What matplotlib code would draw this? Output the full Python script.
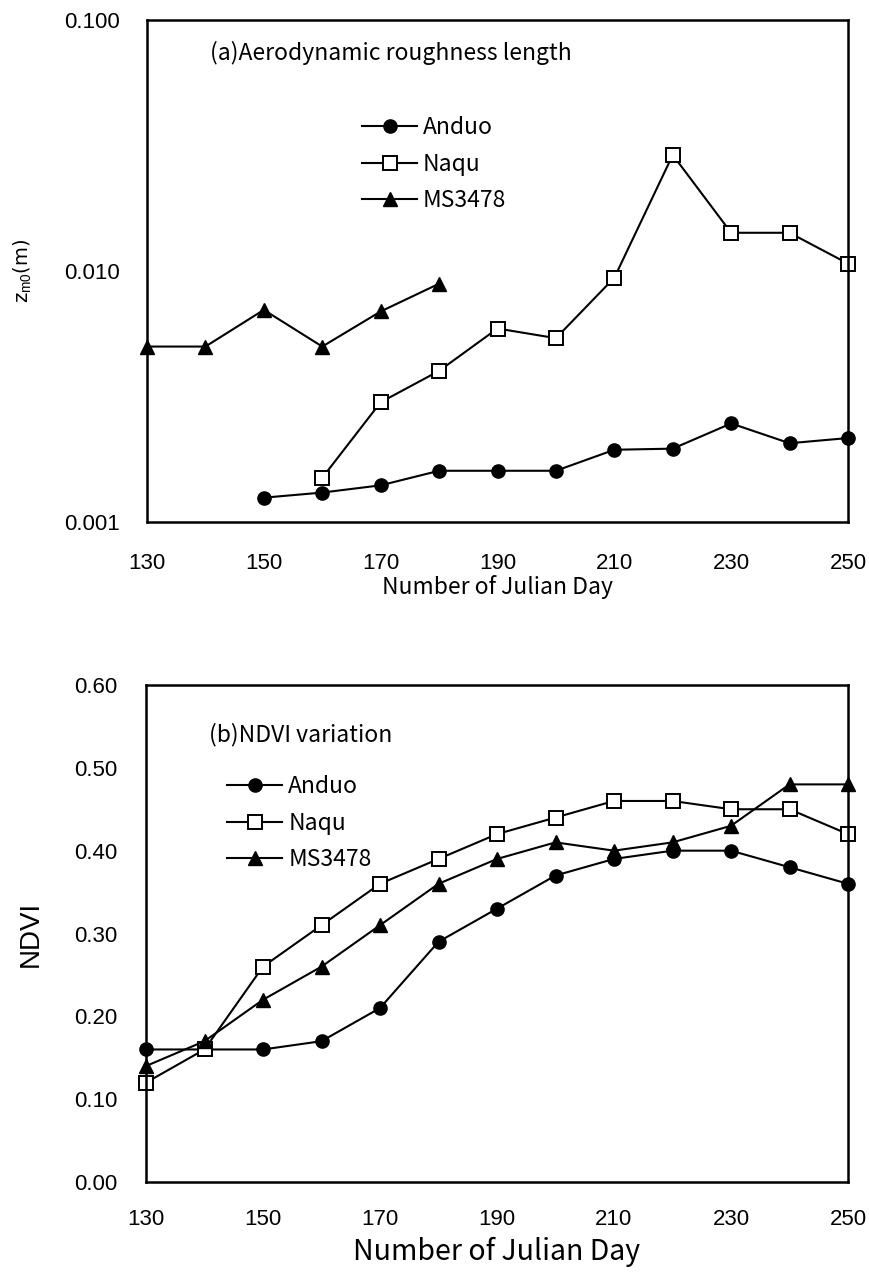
import numpy as np
import matplotlib
matplotlib.use("Agg")
import matplotlib.pyplot as plt
from matplotlib.ticker import FixedLocator, FixedFormatter, NullLocator

# dias julianos
dias = [130, 140, 150, 160, 170, 180, 190, 200, 210, 220, 230, 240, 250]

# (a) comprimento de rugosidade z0m (m)
z0_anduo_dias = [150, 160, 170, 180, 190, 200, 210, 220, 230, 240, 250]
z0_anduo = [0.00125, 0.00131, 0.0014, 0.0016, 0.0016, 0.0016, 0.00194, 0.00196, 0.00247, 0.00206, 0.00216]
z0_naqu_dias = [160, 170, 180, 190, 200, 210, 220, 230, 240, 250]
z0_naqu = [0.0015, 0.0030, 0.0040, 0.0059, 0.0054, 0.0094, 0.029, 0.0142, 0.0142, 0.0107]
z0_ms_dias = [130, 140, 150, 160, 170, 180]
z0_ms = [0.005, 0.005, 0.0070, 0.005, 0.0069, 0.0089]

# (b) NDVI
ndvi_anduo = [0.16, 0.16, 0.16, 0.17, 0.21, 0.29, 0.33, 0.37, 0.39, 0.40, 0.40, 0.38, 0.36]
ndvi_naqu = [0.12, 0.16, 0.26, 0.31, 0.36, 0.39, 0.42, 0.44, 0.46, 0.46, 0.45, 0.45, 0.42]
ndvi_ms = [0.14, 0.17, 0.22, 0.26, 0.31, 0.36, 0.39, 0.41, 0.40, 0.41, 0.43, 0.48, 0.48]

x_ticks = [130, 150, 170, 190, 210, 230, 250]

fonte_texto = ["Noto Sans CJK JP", "DejaVu Sans"]
fonte_num = "Liberation Sans"
plt.rcParams["mathtext.fontset"] = "custom"
plt.rcParams["mathtext.rm"] = "Liberation Sans"
plt.rcParams["mathtext.it"] = "Liberation Sans"

fig = plt.figure(figsize=(8.69, 12.79), dpi=100)
W, H = 869, 1279
ax1 = fig.add_axes([147 / W, 1 - 522 / H, (848 - 147) / W, (522 - 20) / H])
ax2 = fig.add_axes([146 / W, 1 - 1182 / H, (848 - 146) / W, (1182 - 685) / H])

estilo = dict(color="black", lw=1.5, clip_on=False)
m_circ = dict(marker="o", ms=9.5, mfc="black", mec="black")
m_quad = dict(marker="s", ms=9.5, mfc="white", mec="black", mew=1.4)
m_tri = dict(marker="^", ms=9.5, mfc="black", mec="black")

leg_kw = dict(loc="upper left", frameon=False, prop={"family": fonte_texto, "size": 16.5},
              handlelength=2.4, handletextpad=0.25, labelspacing=0.6,
              borderaxespad=0, borderpad=0)

# grafico (a)
ax1.plot(z0_anduo_dias, z0_anduo, label="Anduo", **estilo, **m_circ)
ax1.plot(z0_naqu_dias, z0_naqu, label="Naqu", **estilo, **m_quad)
ax1.plot(z0_ms_dias, z0_ms, label="MS3478", **estilo, **m_tri)
ax1.set_yscale("log")
ax1.set_ylim(0.001, 0.1)
ax1.yaxis.set_major_locator(FixedLocator([0.001, 0.01, 0.1]))
ax1.yaxis.set_major_formatter(FixedFormatter(["0.001", "0.010", "0.100"]))
ax1.yaxis.set_minor_locator(NullLocator())
ax1.set_ylabel(r"z$_{\mathrm{m0}}$(m)", fontsize=14)
ax1.yaxis.set_label_coords(-0.162, 0.5)
ax1.set_xlabel("Number of Julian Day", fontsize=16.5, family=fonte_texto)
ax1.xaxis.set_label_coords(0.5, -0.105)
ax1.text(0.09, 0.934, "(a)Aerodynamic roughness length", transform=ax1.transAxes,
         fontsize=16.5, family=fonte_texto, va="center")
ax1.legend(bbox_to_anchor=(0.307, 0.809), **leg_kw)
ax1.tick_params(axis="x", pad=22)
ax1.tick_params(axis="y", pad=19.5)

# grafico (b)
ax2.plot(dias, ndvi_anduo, label="Anduo", **estilo, **m_circ)
ax2.plot(dias, ndvi_naqu, label="Naqu", **estilo, **m_quad)
ax2.plot(dias, ndvi_ms, label="MS3478", **estilo, **m_tri)
ax2.set_ylim(0, 0.6)
ax2.set_yticks(np.arange(0, 0.61, 0.1))
ax2.set_yticklabels([f"{v:.2f}" for v in np.arange(0, 0.61, 0.1)])
ax2.set_ylabel("NDVI", fontsize=20, family=fonte_num)
ax2.yaxis.set_label_coords(-0.146, 0.5)
ax2.set_xlabel("Number of Julian Day", fontsize=20.5, family=fonte_texto)
ax2.xaxis.set_label_coords(0.5, -0.111)
ax2.text(0.09, 0.901, "(b)NDVI variation", transform=ax2.transAxes,
         fontsize=16.5, family=fonte_texto, va="center")
ax2.legend(bbox_to_anchor=(0.116, 0.819), **leg_kw)
ax2.tick_params(axis="x", pad=19.5)
ax2.tick_params(axis="y", pad=20.5)

for ax in (ax1, ax2):
    ax.set_xlim(130, 250)
    ax.set_xticks(x_ticks)
    ax.tick_params(length=0, labelsize=16)
    for lab in ax.get_xticklabels() + ax.get_yticklabels():
        lab.set_family(fonte_num)
    for sp in ax.spines.values():
        sp.set_linewidth(1.8)

fig.savefig("out.png", dpi=100)
